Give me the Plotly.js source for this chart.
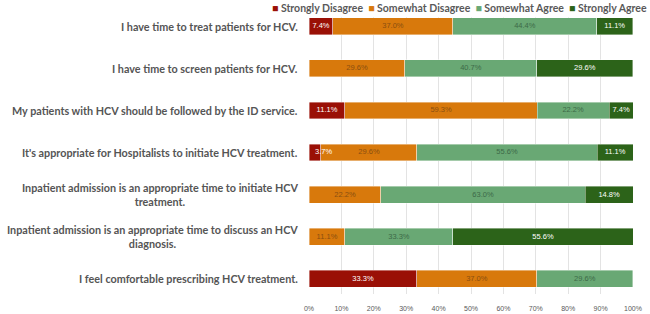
<!DOCTYPE html>
<html>
<head>
<meta charset="utf-8">
<script src="https://cdn.plot.ly/plotly-3.0.1.min.js"></script>
<style>
  html, body { margin: 0; padding: 0; background: #fff; }
  #chart { width: 650px; height: 314px; }
</style>
</head>
<body>
<div id="chart"></div>
<script>
// Survey statements (top to bottom)
const statements = [
  "I have time to treat patients for HCV.",
  "I have time to screen patients for HCV.",
  "My patients with HCV should be followed by the ID service.",
  "It's appropriate for Hospitalists to initiate HCV treatment.",
  "Inpatient admission is an appropriate time to initiate HCV<br>treatment.",
  "Inpatient admission is an appropriate time to discuss an HCV<br>diagnosis.",
  "I feel comfortable prescribing HCV treatment."
];

// Response categories
const responses = ["Strongly Disagree", "Somewhat Disagree", "Somewhat Agree", "Strongly Agree"];

// Percent of respondents per statement (null = no responses)
const stronglyDisagree = [7.4, null, 11.1, 3.7, null, null, 33.3];
const somewhatDisagree = [37.0, 29.6, 59.3, 29.6, 22.2, 11.1, 37.0];
const somewhatAgree    = [44.4, 40.7, 22.2, 55.6, 63.0, 33.3, 29.6];
const stronglyAgree    = [11.1, 29.6, 7.4, 11.1, 14.8, 55.6, null];

const xTicks = [0, 10, 20, 30, 40, 50, 60, 70, 80, 90, 100];

const series = [stronglyDisagree, somewhatDisagree, somewhatAgree, stronglyAgree];
const colors = ["#9a1006", "#d8790c", "#69a874", "#2c6319"];
const textColors = ["#ffffff", "#8a4f10", "#3d6a48", "#ffffff"];

const yIdx = statements.map((_, i) => i);

// Stacked bars
const barTraces = series.map((vals, k) => ({
  type: "bar",
  orientation: "h",
  name: responses[k],
  y: yIdx,
  x: vals,
  width: 0.4,
  marker: { color: colors[k], line: { color: "#ffffff", width: 0.4 } },
  hoverinfo: "skip",
  showlegend: false
}));

// Value labels drawn above all bars, centred in each segment;
// labels of very thin segments start at the segment centre instead
const labelTraces = series.map((vals, k) => {
  const xs = [], ys = [], ts = [], pos = [];
  vals.forEach((v, i) => {
    if (v == null) return;
    let start = 0;
    for (let j = 0; j < k; j++) start += series[j][i] || 0;
    xs.push(start + v / 2);
    ys.push(i);
    ts.push(v.toFixed(1) + "%");
    pos.push(v < 5 ? "middle right" : "middle center");
  });
  return {
    type: "scatter",
    mode: "text",
    x: xs, y: ys, text: ts,
    textposition: pos,
    textfont: { family: "Liberation Sans, Arial, sans-serif", size: 7.5, color: textColors[k] },
    cliponaxis: false,
    hoverinfo: "skip",
    showlegend: false
  };
});

// Statement labels, centred per line and right-aligned against the plot
const labelAnnotations = statements.map((s, i) => ({
  xref: "paper", yref: "y",
  x: 0, y: i,
  xanchor: "right", yanchor: "middle",
  xshift: -9,
  align: "center",
  text: s,
  showarrow: false,
  font: { family: "Lato, sans-serif", size: 10.8, weight: 700, color: "#555555" }
}));

// Legend row built from the response names and colours
const legendText = responses
  .map((r, k) => `<span style="color:${colors[k]}">■</span> ${r}`)
  .join("  ");
const legendAnnotation = {
  xref: "paper", yref: "paper",
  x: 0.463, y: 1.0,
  xanchor: "center", yanchor: "bottom",
  yshift: 1,
  text: legendText,
  showarrow: false,
  font: { family: "Lato, sans-serif", size: 10.5, weight: 700, color: "#595959" }
};

const layout = {
  width: 650, height: 314,
  margin: { l: 309, r: 17, t: 17, b: 20 },
  barmode: "stack",
  paper_bgcolor: "#ffffff",
  plot_bgcolor: "#ffffff",
  xaxis: {
    range: [0, 100],
    tickvals: xTicks,
    ticktext: xTicks.map(v => v + "%"),
    showgrid: true,
    gridcolor: "#e3e3e3",
    gridwidth: 1,
    zeroline: false,
    showline: false,
    ticks: "",
    ticklabelstandoff: 9,
    tickfont: { family: "Liberation Sans, Arial, sans-serif", size: 7, color: "#595959" },
    fixedrange: true
  },
  yaxis: {
    range: [6.36, -0.22],
    showticklabels: false,
    showgrid: false,
    zeroline: false,
    ticks: "",
    fixedrange: true
  },
  annotations: labelAnnotations.concat([legendAnnotation]),
  showlegend: false
};

Plotly.newPlot("chart", barTraces.concat(labelTraces), layout, { displayModeBar: false, staticPlot: true });
</script>
</body>
</html>
